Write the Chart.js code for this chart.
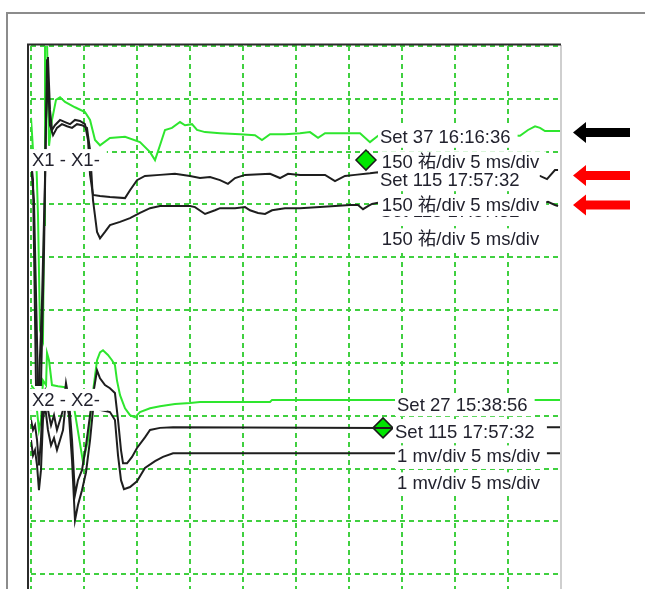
<!DOCTYPE html>
<html>
<head>
    <meta charset='utf-8'>
    <title>X1 / X2 traces</title>
    <script src='https://cdn.jsdelivr.net/npm/chart.js@4.4.0/dist/chart.umd.min.js'></script>
    <style>
        body { margin: 0; overflow: hidden; background: #fff; }
    </style>
</head>
<body>
<canvas id="myChart" width="645" height="640"></canvas>
<script>
// time in ms (5 ms/div), amplitude in screen divisions counted from the top
const xMin = 0, xMax = 50, xStep = 5;
const yMin = 0, yMax = 11, yStep = 1;

// X1 - Set 37 (green)
const x1GreenT = [0, 0.19, 0.47, 0.66, 0.85, 1.13, 1.23, 1.32, 1.51, 1.7, 1.98, 2.36, 2.74, 3.21, 4.15, 5.09, 5.57, 6.04, 6.51, 7.45, 8.87, 10.28, 11.23, 11.7, 12.17, 12.64, 13.3, 14.06, 14.53, 15.19, 15.66, 16.42, 17.83, 19.72, 21.13, 21.79, 22.55, 23.96, 25.38, 26.32, 27.08, 27.74, 29.15, 31.04, 31.98, 32.74, 33.21, 46.13, 46.89, 47.55, 48.02, 48.49, 49.91];
const x1GreenV = [1.36, 1.97, 1.97, 3.2, 5.38, 5.57, 3.39, -0.3, -0.11, 1.89, 1.4, 1.02, 0.97, 1.06, 1.16, 1.25, 1.4, 1.78, 1.88, 1.74, 1.72, 1.82, 2.01, 2.16, 1.88, 1.59, 1.55, 1.44, 1.5, 1.48, 1.59, 1.63, 1.65, 1.67, 1.69, 1.78, 1.67, 1.67, 1.65, 1.63, 1.74, 1.65, 1.65, 1.65, 1.82, 1.7, 1.65, 1.7, 1.59, 1.52, 1.55, 1.61, 1.61];

// X1 - Set 115, upper copy
const x1BlackAT = [0, 0.19, 0.47, 0.75, 1.04, 1.32, 1.51, 1.6, 1.79, 1.98, 2.26, 2.74, 3.21, 3.68, 4.15, 4.62, 5.09, 5.38, 5.57, 5.85, 6.51, 7.45, 8.87, 9.34, 10.0, 10.75, 12.17, 13.58, 15.0, 15.94, 16.89, 17.83, 18.58, 19.25, 20.19, 22.55, 23.49, 24.25, 25.38, 27.74, 28.68, 29.62, 30.57, 31.98, 32.74, 48.02, 48.68, 49.43, 49.72];
const x1BlackAV = [2.16, 2.54, 6.42, 6.42, 4.81, 2.54, 0.27, 0.21, 1.21, 1.59, 1.5, 1.4, 1.44, 1.48, 1.4, 1.42, 1.48, 1.78, 2.44, 2.82, 2.84, 2.86, 2.88, 2.73, 2.54, 2.46, 2.44, 2.42, 2.46, 2.5, 2.48, 2.54, 2.61, 2.5, 2.44, 2.42, 2.5, 2.42, 2.44, 2.44, 2.56, 2.46, 2.44, 2.41, 2.39, 2.46, 2.52, 2.35, 2.35];

// X1 - Set 115, lower copy
const x1BlackBT = [0, 0.28, 0.66, 0.94, 1.23, 1.42, 1.6, 1.79, 2.08, 2.45, 2.92, 3.4, 3.87, 4.34, 4.81, 5.28, 5.57, 5.85, 6.23, 6.51, 6.98, 7.45, 8.4, 9.34, 10.28, 11.23, 12.17, 13.58, 15.0, 15.47, 16.42, 17.36, 17.83, 19.25, 20.19, 20.66, 21.42, 22.08, 22.74, 23.96, 25.38, 27.26, 28.68, 30.09, 30.85, 31.32, 31.79, 32.17, 32.74, 48.02, 48.77, 49.43, 49.72];
const x1BlackBV = [2.25, 2.92, 6.42, 6.42, 3.86, 1.4, 0.64, 1.5, 1.69, 1.55, 1.48, 1.52, 1.55, 1.48, 1.5, 1.55, 1.97, 2.92, 3.52, 3.64, 3.52, 3.39, 3.33, 3.26, 3.16, 3.07, 3.03, 3.03, 3.03, 3.05, 3.18, 3.11, 3.07, 3.07, 3.05, 3.11, 3.16, 3.18, 3.11, 3.07, 3.07, 3.05, 3.03, 3.01, 3.01, 3.09, 3.03, 2.99, 2.97, 2.99, 2.95, 3.01, 3.03];

// X2 - Set 27 (green)
const x2GreenT = [0, 0.38, 0.75, 0.94, 1.13, 1.42, 1.51, 1.7, 1.98, 2.55, 3.21, 3.87, 4.15, 4.91, 5.38, 5.75, 6.23, 6.51, 6.79, 7.26, 7.64, 7.92, 8.11, 8.4, 8.87, 9.34, 9.81, 10.28, 11.23, 12.17, 13.58, 15.0, 15.94, 22.55, 22.74, 32.92, 47.74, 49.91];
const x2GreenV = [6.42, 6.52, 7.27, 7.08, 6.33, 6.42, 5.81, 5.95, 6.42, 6.44, 6.46, 6.61, 6.95, 7.88, 7.46, 6.7, 5.95, 5.8, 5.76, 5.85, 5.95, 6.04, 6.33, 6.61, 6.86, 6.99, 7.03, 6.93, 6.86, 6.82, 6.78, 6.76, 6.74, 6.74, 6.7, 6.7, 6.7, 6.7];

// X2 - Set 115, upper copy
const x2BlackAT = [0, 0.19, 0.38, 0.57, 0.75, 0.94, 1.13, 1.32, 1.6, 1.89, 2.17, 2.45, 2.74, 3.02, 3.3, 3.58, 3.87, 4.15, 4.43, 4.81, 5.19, 5.57, 5.85, 6.23, 6.51, 6.98, 7.45, 7.92, 8.21, 8.49, 8.68, 9.06, 9.53, 10.0, 10.75, 11.23, 12.17, 13.4, 33.21, 48.3, 49.91];
const x2BlackAV = [7.08, 7.27, 7.18, 7.46, 7.94, 7.46, 6.61, 6.52, 6.89, 7.18, 6.99, 7.27, 7.08, 6.89, 6.38, 6.7, 7.46, 8.5, 8.22, 8.03, 7.56, 6.99, 6.61, 6.14, 6.29, 6.42, 6.48, 6.57, 7.08, 7.65, 7.9, 7.9, 7.78, 7.61, 7.41, 7.27, 7.23, 7.22, 7.23, 7.22, 7.22];

// X2 - Set 115, lower copy
const x2BlackBT = [0, 0.19, 0.38, 0.57, 0.75, 0.94, 1.13, 1.32, 1.6, 1.89, 2.17, 2.45, 2.74, 3.02, 3.3, 3.58, 3.87, 4.15, 4.43, 4.81, 5.19, 5.57, 5.85, 6.23, 6.51, 7.45, 7.92, 8.21, 8.49, 8.77, 9.34, 10.0, 10.75, 11.7, 12.45, 13.4, 32.92, 48.3, 49.91];
const x2BlackBV = [7.46, 7.75, 7.65, 7.94, 8.41, 8.03, 7.08, 6.8, 7.27, 7.56, 7.42, 7.65, 7.46, 7.27, 6.7, 6.99, 7.84, 8.98, 8.69, 8.41, 8.07, 7.46, 6.89, 6.7, 6.89, 6.93, 7.08, 7.75, 8.22, 8.39, 8.35, 8.24, 7.99, 7.86, 7.78, 7.71, 7.71, 7.71, 7.71];

// cursor markers
const cursorT = [31.6, 33.21];
const cursorV = [2.16, 7.23];

// trace tags, drawn in this order (later boxes hide earlier ones)
const tagText = [
    'Set 37 16:16:36', '150 祐/div 5 ms/div',
    'Set 115 17:57:32', '150 祐/div 5 ms/div',
    'Set 115 17:57:32', '150 祐/div 5 ms/div',
    'Set 27 15:38:56', '1 mv/div 5 ms/div',
    'Set 115 17:57:32', '1 mv/div 5 ms/div',
    'Set 115 17:57:32', '1 mv/div 5 ms/div',
    'X1 - X1-', 'X2 - X2-'
];
const tagPos = [
    [32.92, 1.72], [33.1, 2.2],
    [32.92, 3.13], [33.1, 3.66],
    [32.92, 2.54, 48.0], [33.1, 3.01],
    [34.53, 6.8], [34.53, 7.27],
    [34.53, 7.8], [34.53, 8.28],
    [34.34, 7.31], [34.53, 7.77],
    [0.09, 2.16], [0.09, 6.7]
];

const traceGreen = '#2ee62e';
const traceBlack = '#1e1e1e';

function pts(t, v) {
    return t.map((ti, i) => ({x: ti, y: v[i]}));
}

function arrow(ctx, tipX, cy, color) {
    ctx.fillStyle = color;
    ctx.beginPath();
    ctx.moveTo(tipX, cy);
    ctx.lineTo(tipX + 13, cy - 10.5);
    ctx.lineTo(tipX + 13, cy - 4.5);
    ctx.lineTo(630, cy - 4.5);
    ctx.lineTo(630, cy + 4.5);
    ctx.lineTo(tipX + 13, cy + 4.5);
    ctx.lineTo(tipX + 13, cy + 10.5);
    ctx.closePath();
    ctx.fill();
}

const decor = {
    id: 'decor',
    afterDatasetsDraw(chart) {
        const {ctx, scales: {x, y}} = chart;
        ctx.save();
        ctx.font = '18.5px "Liberation Sans", "Noto Sans CJK SC", sans-serif';
        ctx.textBaseline = 'middle';
        tagText.forEach((text, i) => {
            const p = tagPos[i];
            const px = x.getPixelForValue(p[0]);
            const py = y.getPixelForValue(p[1]);
            let right = px + ctx.measureText(text).width + 7;
            if (p[2]) right = Math.max(right, x.getPixelForValue(p[2]));
            ctx.fillStyle = '#fff';
            ctx.fillRect(px - 2, py - 11, right - px + 2, 22);
            ctx.fillStyle = '#22222e';
            ctx.fillText(text, px, py + 1);
        });
        ctx.restore();
    },
    afterDraw(chart) {
        const {ctx, chartArea: a} = chart;
        ctx.save();
        // outer window frame
        ctx.strokeStyle = '#8c8c8c';
        ctx.lineWidth = 2;
        ctx.beginPath();
        ctx.moveTo(7, 640);
        ctx.lineTo(7, 13);
        ctx.lineTo(645, 13);
        ctx.stroke();
        // plot frame
        ctx.strokeStyle = '#cfcfcf';
        ctx.beginPath();
        ctx.moveTo(a.right, a.top - 1);
        ctx.lineTo(a.right, 640);
        ctx.stroke();
        ctx.strokeStyle = '#2b2b2b';
        ctx.beginPath();
        ctx.moveTo(a.left - 3, 640);
        ctx.lineTo(a.left - 3, a.top - 1.5);
        ctx.lineTo(a.right, a.top - 1.5);
        ctx.stroke();
        // pointers
        arrow(ctx, 573, 132.5, '#000');
        arrow(ctx, 573, 175.5, '#ff0000');
        arrow(ctx, 573, 205, '#ff0000');
        ctx.restore();
    }
};

const gridOpts = {color: '#40d040', lineWidth: 2, drawTicks: false};
const borderOpts = {display: false, dash: [5, 4]};

const ctx = document.getElementById('myChart').getContext('2d');
const myChart = new Chart(ctx, {
    type: 'line',
    data: {
        datasets: [
            {label: 'X1 Set 115 lower', data: pts(x1BlackBT, x1BlackBV), borderColor: traceBlack},
            {label: 'X1 Set 115 upper', data: pts(x1BlackAT, x1BlackAV), borderColor: traceBlack},
            {label: 'X2 Set 115 lower', data: pts(x2BlackBT, x2BlackBV), borderColor: traceBlack},
            {label: 'X2 Set 115 upper', data: pts(x2BlackAT, x2BlackAV), borderColor: traceBlack},
            {label: 'X1 Set 37', data: pts(x1GreenT, x1GreenV), borderColor: traceGreen},
            {label: 'X2 Set 27', data: pts(x2GreenT, x2GreenV), borderColor: traceGreen},
            {
                label: 'cursor', data: pts(cursorT, cursorV), showLine: false,
                pointStyle: 'rectRot', pointRadius: 10, pointHoverRadius: 10,
                backgroundColor: '#00e600', borderColor: '#1a1a1a', borderWidth: 1.5
            }
        ]
    },
    options: {
        responsive: false,
        animation: false,
        layout: {padding: {left: 31, top: 46, right: 84, bottom: 13}},
        plugins: {legend: {display: false}, tooltip: {enabled: false}},
        elements: {
            point: {radius: 0},
            line: {tension: 0, borderWidth: 2, fill: false}
        },
        scales: {
            x: {
                type: 'linear', min: xMin, max: xMax,
                ticks: {display: false, stepSize: xStep},
                grid: gridOpts, border: borderOpts
            },
            y: {
                type: 'linear', reverse: true, min: yMin, max: yMax,
                ticks: {display: false, stepSize: yStep},
                grid: gridOpts, border: borderOpts
            }
        }
    },
    plugins: [decor]
});
</script>
</body>
</html>
